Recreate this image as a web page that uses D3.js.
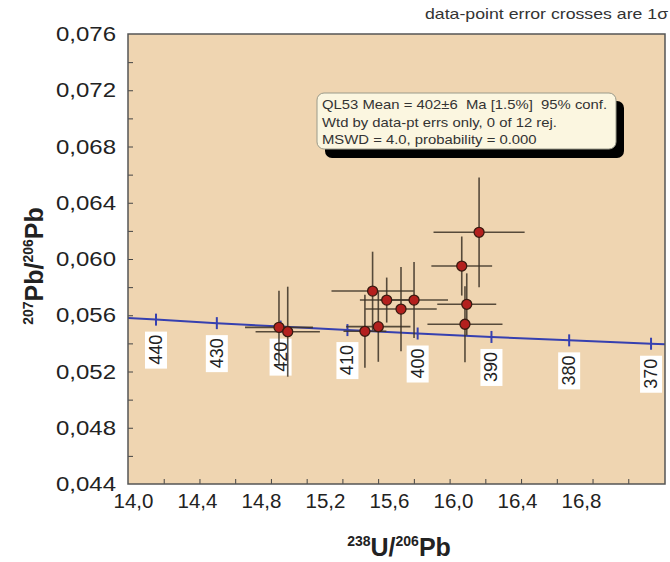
<!DOCTYPE html>
<html><head><meta charset="utf-8">
<script src="https://cdn.jsdelivr.net/npm/d3@7"></script>
<style>
body{margin:0;background:#fff}
svg{display:block}
text{font-family:Arial,"Liberation Sans",Helvetica,sans-serif}
</style>
</head><body>
<svg id="c" width="670" height="562"></svg>
<script>
// ---- data ----
const pointX = [14.845, 14.894, 15.326, 15.401, 15.369, 15.448, 15.528, 15.601, 15.868, 15.965, 15.896, 15.886];
const pointY = [0.05514, 0.05483, 0.05486, 0.05519, 0.05772, 0.05708, 0.05644, 0.05708, 0.0595, 0.0619, 0.05678, 0.05536];
const errX = [0.19, 0.18, 0.12, 0.18, 0.23, 0.15, 0.20, 0.19, 0.17, 0.255, 0.165, 0.21];
const errY = [0.0026, 0.0032, 0.0026, 0.0025, 0.0028, 0.0016, 0.0030, 0.0027, 0.0021, 0.0039, 0.0022, 0.0027];

const concAges = [450, 440, 430, 420, 410, 400, 390, 380, 370, 360];
const concX = [13.8312, 14.1566, 14.4972, 14.8540, 15.2282, 15.6212, 16.0343, 16.4692, 16.9275, 17.4114];
const concY = [0.055940, 0.055689, 0.055439, 0.055192, 0.054945, 0.054701, 0.054457, 0.054215, 0.053975, 0.053736];
const ageLabels = [440, 430, 420, 410, 400, 390, 380, 370];

const xTickLabels = [14.0, 14.4, 14.8, 15.2, 15.6, 16.0, 16.4, 16.8];
const yTickLabels = [0.044, 0.048, 0.052, 0.056, 0.060, 0.064, 0.068, 0.072, 0.076];

const legendLines = [
  "QL53 Mean = 402\u00b16  Ma [1.5%]  95% conf.",
  "Wtd by data-pt errs only, 0 of 12 rej.",
  "MSWD = 4.0, probability = 0.000"
];
const noteText = "data-point error crosses are 1\u03c3";

// ---- layout ----
const svg = d3.select("#c");
const L = 128, R = 664, T = 34, B = 484;
const x = d3.scaleLinear().domain([14, 17]).range([L, R]);
const y = d3.scaleLinear().domain([0.044, 0.076]).range([B, T]);
// tick labels in the reference sit on a slightly compressed spacing
const xl = d3.scaleLinear().domain([14.0, 16.8]).range([133, 581]);
const fmt = v => d3.format(".1f")(v).replace(".", ",");
const fmtY = v => d3.format(".3f")(v).replace(".", ",");

// stretch text horizontally like the reference's wide type
function stretch(sel, k) {
  sel.each(function () {
    const w = this.getComputedTextLength();
    d3.select(this).attr("textLength", w * k).attr("lengthAdjust", "spacingAndGlyphs");
  });
}

svg.append("defs").append("clipPath").attr("id", "clip")
  .append("rect").attr("x", L).attr("y", T).attr("width", R - L + 1).attr("height", B - T);

svg.append("rect").attr("x", L).attr("y", T).attr("width", R - L + 1).attr("height", B - T)
  .attr("fill", "#efd5b1");

// note
svg.append("text").attr("x", 425).attr("y", 19).attr("font-size", 15).attr("fill", "#333")
  .text(noteText).call(stretch, 1.18);

// axes ticks (inward)
const gx = svg.append("g").attr("transform", `translate(0,${B})`)
  .call(d3.axisTop(x).tickValues(d3.range(14.2, 16.99, 0.2)).tickSize(5).tickFormat(""));
gx.select(".domain").remove();
gx.selectAll("line").attr("stroke", "#444");

const gy = svg.append("g").attr("transform", `translate(${L},0)`)
  .call(d3.axisRight(y).tickValues(d3.range(0.046, 0.0759, 0.002)).tickSize(5).tickFormat(""));
gy.select(".domain").remove();
gy.selectAll("line").attr("stroke", "#444");

// tick labels
const gxl = svg.append("g").attr("transform", `translate(0,${B + 6})`)
  .call(d3.axisBottom(xl).tickValues(xTickLabels).tickSize(0).tickFormat(fmt));
gxl.select(".domain").remove();
gxl.selectAll("text").attr("font-size", 20.5).attr("fill", "#222").attr("font-family", "Arial, Liberation Sans, sans-serif");

const gyl = svg.append("g").attr("transform", `translate(${L - 9},0)`)
  .call(d3.axisLeft(y).tickValues(yTickLabels).tickSize(0).tickFormat(fmtY));
gyl.select(".domain").remove();
gyl.selectAll("text").attr("font-size", 20.5).attr("fill", "#222").attr("font-family", "Arial, Liberation Sans, sans-serif")
  .call(stretch, 1.17);

// concordia
const plot = svg.append("g").attr("clip-path", "url(#clip)");
const line = d3.line().x((d, i) => x(concX[i])).y((d, i) => y(concY[i])).curve(d3.curveMonotoneX);
plot.append("path").datum(concAges).attr("d", line)
  .attr("fill", "none").attr("stroke", "#3640b0").attr("stroke-width", 2);

const ageIdx = ageLabels.map(a => concAges.indexOf(a));
plot.selectAll(".ctick").data(ageIdx).enter().append("line")
  .attr("x1", i => x(concX[i])).attr("x2", i => x(concX[i]))
  .attr("y1", i => y(concY[i]) - 6).attr("y2", i => y(concY[i]) + 6)
  .attr("stroke", "#3640b0").attr("stroke-width", 2);

const lab = plot.selectAll(".clab").data(ageIdx).enter().append("g")
  .attr("transform", i => `translate(${x(concX[i])},${y(concY[i]) + 12})`);
lab.append("rect").attr("x", -11).attr("y", 0).attr("width", 22).attr("height", 37).attr("fill", "#fff");
lab.append("text").attr("transform", "translate(6,3) rotate(-90)")
  .attr("text-anchor", "end").attr("font-size", 18).attr("fill", "#222")
  .text(i => concAges[i]);

// error crosses
const idx = d3.range(pointX.length);
const ec = plot.append("g").attr("stroke", "#3b3126").attr("stroke-width", 1.6).attr("stroke-opacity", 0.85);
ec.selectAll(".eh").data(idx).enter().append("line")
  .attr("x1", i => x(pointX[i] - errX[i])).attr("x2", i => x(pointX[i] + errX[i]))
  .attr("y1", i => y(pointY[i])).attr("y2", i => y(pointY[i]));
ec.selectAll(".ev").data(idx).enter().append("line")
  .attr("x1", i => x(pointX[i])).attr("x2", i => x(pointX[i]))
  .attr("y1", i => y(pointY[i] - errY[i])).attr("y2", i => y(pointY[i] + errY[i]));

plot.selectAll(".pt").data(idx).enter().append("circle")
  .attr("cx", i => x(pointX[i])).attr("cy", i => y(pointY[i])).attr("r", 5)
  .attr("fill", "#b3201e").attr("stroke", "#3a1a10").attr("stroke-width", 1.3);

// legend box
svg.append("rect").attr("x", 325).attr("y", 101).attr("width", 299).attr("height", 57).attr("rx", 7)
  .attr("fill", "#000");
svg.append("rect").attr("x", 317).attr("y", 93).attr("width", 299).attr("height", 56).attr("rx", 7)
  .attr("fill", "#fbf6e0").attr("stroke", "#9a9a8a").attr("stroke-width", 1);
svg.append("g").selectAll("text").data(legendLines).enter().append("text")
  .attr("x", 322).attr("y", (d, i) => 109 + i * 17.5)
  .attr("font-size", 13.5).attr("fill", "#333").style("white-space", "pre")
  .text(d => d).call(stretch, 1.1);

// frame
svg.append("rect").attr("x", L).attr("y", T).attr("width", R - L + 1).attr("height", B - T)
  .attr("fill", "none").attr("stroke", "#555").attr("stroke-width", 1.5);

// axis titles
const xt = svg.append("text").attr("x", 399).attr("y", 556).attr("text-anchor", "middle")
  .attr("font-weight", "bold").attr("fill", "#222");
xt.append("tspan").attr("font-size", 14).attr("dy", -10).text("238");
xt.append("tspan").attr("font-size", 25).attr("dy", 10).text("U/");
xt.append("tspan").attr("font-size", 14).attr("dy", -10).text("206");
xt.append("tspan").attr("font-size", 25).attr("dy", 10).text("Pb");

const yt = svg.append("text").attr("transform", "translate(43,266) rotate(-90)").attr("text-anchor", "middle")
  .attr("font-weight", "bold").attr("fill", "#222");
yt.append("tspan").attr("font-size", 14).attr("dy", -10).text("207");
yt.append("tspan").attr("font-size", 25).attr("dy", 10).text("Pb/");
yt.append("tspan").attr("font-size", 14).attr("dy", -10).text("206");
yt.append("tspan").attr("font-size", 25).attr("dy", 10).text("Pb");
</script>
</body></html>
